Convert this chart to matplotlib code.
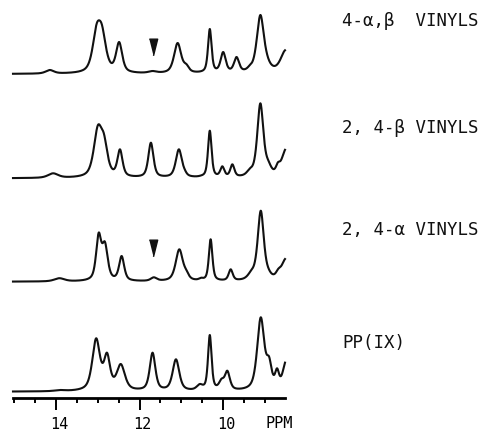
import numpy as np
import matplotlib
matplotlib.use("Agg")
import matplotlib.pyplot as plt
from matplotlib.transforms import ScaledTranslation

# ---------------- data (peak lists) ----------------
labels = ["4-\u03b1,\u03b2  VINYLS", "2, 4-\u03b2 VINYLS", "2, 4-\u03b1 VINYLS", "PP(IX)"]

# trace 1 : 4-alpha,beta vinyls
pos1 = [14.15, 13.03, 12.90, 12.49, 11.69, 11.09, 10.88, 10.45, 10.32, 10.00, 9.68, 9.36, 9.11, 8.95, 8.50]
hgt1 = [4, 50, 49, 32, 3, 31, 10, 3, 45, 22, 17, 9, 59, 20, 24]
wid1 = [0.08, 0.08, 0.08, 0.06, 0.08, 0.07, 0.05, 0.04, 0.035, 0.05, 0.05, 0.05, 0.07, 0.08, 0.10]

# trace 2 : 2,4-beta vinyls
pos2 = [14.07, 13.00, 12.85, 12.47, 11.73, 11.06, 10.92, 10.52, 10.32, 10.02, 9.78, 9.36, 9.11, 8.92, 8.69, 8.50]
hgt2 = [5, 53, 44, 29, 35.6, 29, 9, 3, 47.6, 12, 14, 10, 75, 18, 16, 29]
wid2 = [0.10, 0.08, 0.07, 0.05, 0.05, 0.06, 0.04, 0.05, 0.035, 0.04, 0.04, 0.06, 0.06, 0.06, 0.04, 0.08]

# trace 3 : 2,4-alpha vinyls
pos3 = [13.92, 12.98, 12.83, 12.43, 11.66, 11.05, 10.88, 10.53, 10.30, 9.82, 9.32, 9.10, 8.92, 8.68, 8.50]
hgt3 = [3.5, 49, 40, 25.7, 4.4, 32.4, 11.7, 4, 42.4, 12.4, 12, 71, 14, 13, 23]
wid3 = [0.10, 0.05, 0.055, 0.05, 0.06, 0.07, 0.05, 0.04, 0.035, 0.04, 0.07, 0.06, 0.06, 0.05, 0.08]

# trace 4 : PP(IX)
pos4 = [13.91, 13.04, 12.78, 12.45, 11.69, 11.13, 10.80, 10.56, 10.32, 10.04, 9.90, 9.28, 9.10, 8.90, 8.71, 8.50]
hgt4 = [1.7, 53.4, 39, 27.7, 39, 32.4, 2.4, 7.7, 56.7, 13, 21, 10, 74.4, 35, 23.4, 30]
wid4 = [0.10, 0.075, 0.06, 0.08, 0.055, 0.065, 0.04, 0.06, 0.035, 0.05, 0.05, 0.07, 0.07, 0.05, 0.04, 0.06]

# arrow markers (ppm, trace index, height above baseline)
arrow_ppm = [11.69, 11.67]
arrow_trace = [0, 2]
arrow_hgt = [27, 34]

major_ticks = [14, 12, 10]

# ---------------- helpers ----------------
WSCALE = 1.45   # plotted line-width factor (image blur of the recorder trace)
ETA = 0.6

def shape(x, p, w):
    d = (x - p) / (w * WSCALE)
    return ETA / (1 + d * d) + (1 - ETA) * np.exp(-np.log(2) * d * d)

def spectrum(x, pos, hgt, wid):
    pos, hgt, wid = map(np.asarray, (pos, hgt, wid))
    M = np.array([[shape(pi, pj, wj) for pj, wj in zip(pos, wid)] for pi in pos])
    amp = hgt.astype(float).copy()
    for _ in range(400):
        cur = M @ amp
        amp *= hgt / cur
    return sum(a * shape(x, p, w) for a, p, w in zip(amp, pos, wid))

# ---------------- figure ----------------
W, H = 490, 432
fig = plt.figure(figsize=(W / 100, H / 100), dpi=100)
ax_left, ax_right, ax_bottom = 13, 285, 398
ax = fig.add_axes([ax_left / W, (H - ax_bottom) / H, (ax_right - ax_left) / W, ax_bottom / H])
ax.set_xlim(15.03, 8.52)
ax.set_ylim(0, ax_bottom)

offsets = [398 - 74, 398 - 178.3, 398 - 281.7, 398 - 391.7]
x = np.linspace(15.03, 8.52, 3000)
for (pos, hgt, wid), off in zip([(pos1, hgt1, wid1), (pos2, hgt2, wid2),
                                 (pos3, hgt3, wid3), (pos4, hgt4, wid4)], offsets):
    ax.plot(x, off + spectrum(x, pos, hgt, wid), color="#111111", lw=1.5,
            solid_joinstyle="round", clip_on=False)

tri = [(-0.5, 1), (0.5, 1), (0, -1)]
for p, t, h in zip(arrow_ppm, arrow_trace, arrow_hgt):
    ax.plot([p], [offsets[t] + h], marker=tri, markersize=12, color="#111111", linestyle="none")

# axis styling
for s in ["left", "right", "top"]:
    ax.spines[s].set_visible(False)
ax.spines["bottom"].set_linewidth(2.0)
ax.set_yticks([])
ax.set_xticks(major_ticks)
ax.set_xticks(np.arange(8.5, 15.01, 0.5)[1:], minor=True)
ax.tick_params(axis="x", which="major", direction="out", length=8.5, width=1.4, pad=5.5,
               labelsize=11, labelfontfamily="DejaVu Sans Mono")
ax.tick_params(axis="x", which="minor", direction="out", length=3.6, width=1.4)
ax.set_xticklabels([str(t) for t in major_ticks])
shift = ScaledTranslation(3 / 100, 0, fig.dpi_scale_trans)
for lab in ax.get_xticklabels():
    lab.set_transform(lab.get_transform() + shift)
ax.text(8.67, -26 / ax_bottom, "PPM", transform=ax.get_xaxis_transform(), ha="center", va="center",
        fontsize=11, family="DejaVu Sans Mono")

label_y = [21, 128, 230, 343]
for lab, y in zip(labels, label_y):
    fig.text(342 / W, 1 - y / H, lab, ha="left", va="center", fontsize=12.5,
             family=["DejaVu Sans Mono", "DejaVu Sans"], color="#111111")

fig.savefig("out.png", dpi=100)
